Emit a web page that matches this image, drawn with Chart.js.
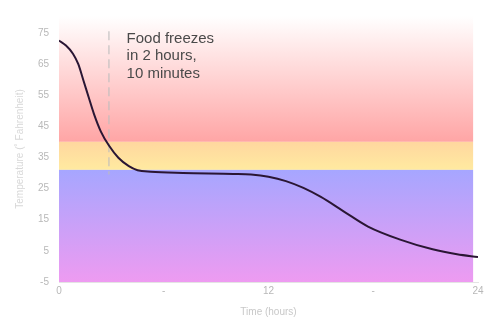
<!DOCTYPE html>
<html>
<head>
<meta charset="utf-8">
<script src="https://cdn.jsdelivr.net/npm/chart.js@4/dist/chart.umd.min.js"></script>
<style>
  html, body { margin: 0; padding: 0; background: #fff; }
  #wrap { width: 500px; height: 327px; }
</style>
</head>
<body>
<div id="wrap"><canvas id="freezeChart" width="500" height="327"></canvas></div>
<script>
// data
const hours = [0, 0.4, 0.8, 1.1, 1.4, 1.7, 2.0, 2.4, 2.86, 3.4, 4.0, 4.5, 5.25, 7.1, 10.0, 11.0, 12.0, 13.0, 14.0, 15.0, 16.3, 17.7, 19.5, 21.4, 22.8, 24];
const temps = [72.5, 70.9, 68.3, 65.0, 59.7, 54.3, 49.0, 43.3, 38.8, 34.9, 32.2, 30.9, 30.4, 30.0, 29.7, 29.5, 28.8, 27.4, 25.2, 22.3, 17.7, 12.8, 8.7, 5.5, 3.9, 3.0];
const xTickValues = [0, 6, 12, 18, 24];
const xTickLabels = ["0", "-", "12", "-", "24"];
const yTickValues = [-5, 5, 15, 25, 35, 45, 55, 65, 75];

const warmLimit = 40;     // top of the yellow band
const freezeLimit = 31;   // top of the blue band
const freezeHour = 2.86;  // dashed marker
const noteLines = ["Food freezes", "in 2 hours,", "10 minutes"];

const grey = "#c8c8c8";

const bands = {
  id: "bands",
  beforeDatasetsDraw(chart) {
    const { ctx, chartArea: a, scales: { x, y } } = chart;
    const left = a.left, right = x.getPixelForValue(23.72);
    const yWarm = y.getPixelForValue(warmLimit);
    const yFreeze = y.getPixelForValue(freezeLimit);
    ctx.save();
    let g = ctx.createLinearGradient(0, a.top, 0, yWarm);
    g.addColorStop(0, "#ffffff");
    g.addColorStop(1, "#ffa5a5");
    ctx.fillStyle = g;
    ctx.fillRect(left, a.top, right - left, yWarm - a.top);

    g = ctx.createLinearGradient(0, yWarm, 0, yFreeze);
    g.addColorStop(0, "#ffd79f");
    g.addColorStop(1, "#ffeaa0");
    ctx.fillStyle = g;
    ctx.fillRect(left, yWarm, right - left, yFreeze - yWarm);

    g = ctx.createLinearGradient(0, yFreeze, 0, a.bottom);
    g.addColorStop(0, "#a6a6ff");
    g.addColorStop(1, "#ee9bf1");
    ctx.fillStyle = g;
    ctx.fillRect(left, yFreeze, right - left, a.bottom - yFreeze);

    // freeze marker
    const xm = x.getPixelForValue(freezeHour);
    ctx.strokeStyle = "rgba(190,190,190,0.9)";
    ctx.lineWidth = 1.2;
    ctx.setLineDash([9, 5]);
    ctx.beginPath();
    ctx.moveTo(xm, y.getPixelForValue(75.5));
    ctx.lineTo(xm, y.getPixelForValue(29.5));
    ctx.stroke();
    ctx.setLineDash([]);

    // note
    ctx.fillStyle = "#4a4a4a";
    ctx.font = "15px 'Liberation Sans', Arial, sans-serif";
    ctx.textBaseline = "middle";
    ctx.textAlign = "left";
    const tx = x.getPixelForValue(3.87);
    noteLines.forEach((t, i) => {
      ctx.fillText(t, tx, y.getPixelForValue(73.1) + i * 17.5);
    });
    ctx.restore();
  }
};

new Chart(document.getElementById("freezeChart"), {
  type: "line",
  data: {
    datasets: [{
      data: hours.map((h, i) => ({ x: h, y: temps[i] })),
      borderColor: "#2a1634",
      borderWidth: 2,
      cubicInterpolationMode: "monotone",
      pointRadius: 0,
      fill: false
    }]
  },
  options: {
    responsive: false,
    animation: false,
    layout: { padding: { top: 15, right: 22, left: 0, bottom: 0 } },
    plugins: { legend: { display: false }, tooltip: { enabled: false } },
    scales: {
      x: {
        type: "linear",
        min: 0,
        max: 24,
        afterFit(s) { s.height = 45; },
        afterBuildTicks(s) { s.ticks = xTickValues.map(v => ({ value: v })); },
        grid: { display: false, drawTicks: false },
        border: { display: true, color: "#e4e4e4", width: 1 },
        ticks: {
          padding: 3,
          color: "#b8b8b8",
          font: { family: "'Liberation Sans', Arial, sans-serif", size: 10 },
          maxRotation: 0,
          callback: (v) => xTickLabels[xTickValues.indexOf(v)]
        },
        title: {
          display: true,
          text: "Time (hours)",
          color: grey,
          font: { family: "'Liberation Sans', Arial, sans-serif", size: 10 },
          padding: { top: 0, bottom: 9 }
        }
      },
      y: {
        min: -5,
        max: 80.4,
        afterFit(s) { s.width = 59; },
        afterBuildTicks(s) { s.ticks = yTickValues.map(v => ({ value: v })); },
        grid: { display: false, drawTicks: false },
        border: { display: true, color: "#e4e4e4", width: 1 },
        ticks: {
          padding: 10,
          color: "#b8b8b8",
          font: { family: "'Liberation Sans', Arial, sans-serif", size: 10 }
        },
        title: {
          display: true,
          text: "Temperature (˚ Fahrenheit)",
          color: "#d8d8d8",
          font: { family: "'Liberation Sans', Arial, sans-serif", size: 10 },
          padding: { top: 14, bottom: 0 }
        }
      }
    }
  },
  plugins: [bands]
});
</script>
</body>
</html>
